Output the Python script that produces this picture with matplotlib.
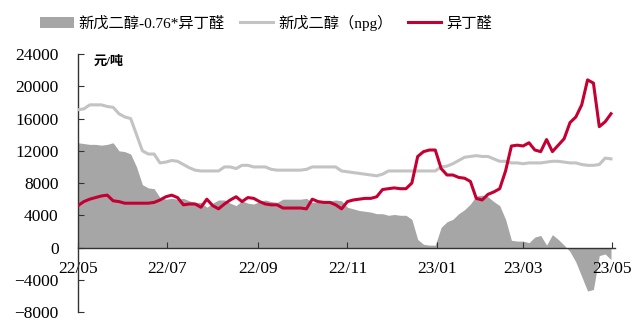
from matplotlib import pyplot as plt
import matplotlib.dates as mdates
from matplotlib.patches import Patch
from matplotlib.lines import Line2D
import pandas as pd

# 每4天一个点, 2022-05-01 起
dates = pd.date_range("2022-05-01", periods=92, freq="4D")

# 新戊二醇(npg)
npg = [17100, 17200, 17700, 17700, 17700, 17500, 17400, 16600, 16200, 16000,
       14000, 12000, 11600, 11600, 10500, 10600, 10800, 10700, 10300, 9900,
       9600, 9500, 9500, 9500, 9500, 10000, 10000, 9800, 10200, 10200,
       10000, 10000, 10000, 9700, 9600, 9600, 9600, 9600, 9600, 9700,
       10000, 10000, 10000, 10000, 10000, 9500, 9400, 9300, 9200, 9100,
       9000, 8900, 9100, 9500, 9500, 9500, 9500, 9500, 9500, 9500,
       9500, 9500, 10000, 10100, 10400, 10800, 11200, 11300, 11400, 11300,
       11300, 11000, 10700, 10700, 10500, 10500, 10400, 10500, 10500, 10500,
       10600, 10700, 10700, 10600, 10500, 10500, 10300, 10200, 10200, 10300,
       11100, 11000]

# 异丁醛
ibal = [5200, 5700, 6000, 6200, 6400, 6500, 5800, 5700, 5500, 5500,
        5500, 5500, 5500, 5600, 5900, 6300, 6500, 6200, 5300, 5400,
        5400, 5000, 6000, 5200, 4800, 5400, 5900, 6300, 5700, 6200,
        6100, 5700, 5400, 5300, 5300, 4900, 4900, 4900, 4900, 4800,
        6000, 5700, 5600, 5600, 5300, 4800, 5700, 5900, 6000, 6100,
        6100, 6300, 7200, 7300, 7400, 7300, 7300, 8000, 11300, 11900,
        12100, 12100, 9800, 9000, 9000, 8700, 8600, 8200, 6100, 5900,
        6600, 6900, 7300, 9500, 12600, 12700, 12600, 13000, 12100, 11900,
        13400, 11900, 12700, 13500, 15500, 16200, 17700, 20800, 20400, 15000,
        15600, 16600]

# 新戊二醇-0.76*异丁醛
spread = [13000, 12900, 12800, 12800, 12700, 12800, 13000, 12000, 11900, 11600,
          10000, 7800, 7400, 7300, 6200, 6000, 6100, 6000, 6100, 5800,
          5600, 5600, 5000, 5500, 5900, 5900, 5500, 5200, 5800, 5500,
          5400, 5700, 5900, 5700, 5600, 6000, 6000, 6000, 6000, 6100,
          5600, 5700, 5800, 5800, 5900, 5800, 5000, 4800, 4600, 4500,
          4400, 4200, 4200, 4000, 4100, 4000, 4000, 3500, 1000, 400,
          300, 300, 2500, 3200, 3500, 4200, 4700, 5400, 6400, 6500,
          6300, 5700, 5200, 3500, 900, 800, 800, 600, 1300, 1500,
          300, 1600, 1000, 300, -500, -1800, -3600, -5400, -5200, -1000,
          -800, -1500]

label_spread = "新戊二醇-0.76*异丁醛"
label_npg = "新戊二醇（npg）"
label_ibal = "异丁醛"

fonts = ["Liberation Serif", "Noto Sans CJK SC"]
plt.rcParams["font.family"] = fonts

fig = plt.figure(figsize=(6.36, 3.22), dpi=100)
ax = fig.add_axes([0.1226, 0.031, 0.845, 0.801])

ax.fill_between(dates, spread, 0, color="#a6a6a6", linewidth=0, zorder=1)
ax.plot(dates, npg, color="#c3c3c3", linewidth=2.2, zorder=3)
ax.plot(dates, ibal, color="#c40033", linewidth=2.2, zorder=4)

ax.set_ylim(-8000, 24000)
ax.set_yticks(range(-8000, 24001, 4000))
ax.set_xlim(pd.Timestamp("2022-05-01"), pd.Timestamp("2023-05-03"))
ax.xaxis.set_major_locator(mdates.MonthLocator(bymonth=[1, 3, 5, 7, 9, 11]))
ax.xaxis.set_major_formatter(mdates.DateFormatter("%y/%m"))

for s in ["top", "right"]:
    ax.spines[s].set_visible(False)
ax.spines["bottom"].set_position(("data", 0))
ax.spines["bottom"].set_zorder(5)
for s in ["left", "bottom"]:
    ax.spines[s].set_color("#333333")
    ax.spines[s].set_linewidth(1.0)

ax.tick_params(axis="y", direction="in", length=4, pad=14, labelsize=12.5,
               color="#333333")
ax.tick_params(axis="x", direction="in", length=4, pad=10, labelsize=12.5,
               color="#333333")

ax.text(0.03, 0.995, "元/吨", transform=ax.transAxes, fontsize=9.5,
        fontweight="bold", va="top", ha="left")

handles = [Patch(facecolor="#a6a6a6", edgecolor="none"),
           Line2D([0], [0], color="#c3c3c3", linewidth=2.2),
           Line2D([0], [0], color="#c40033", linewidth=2.2)]
fig.legend(handles, [label_spread, label_npg, label_ibal], loc="center",
           bbox_to_anchor=(0.418, 0.93), ncol=3, frameon=False, fontsize=11,
           handlelength=2.2, handletextpad=0.3, columnspacing=1.0)

fig.savefig("out.png", dpi=100)
